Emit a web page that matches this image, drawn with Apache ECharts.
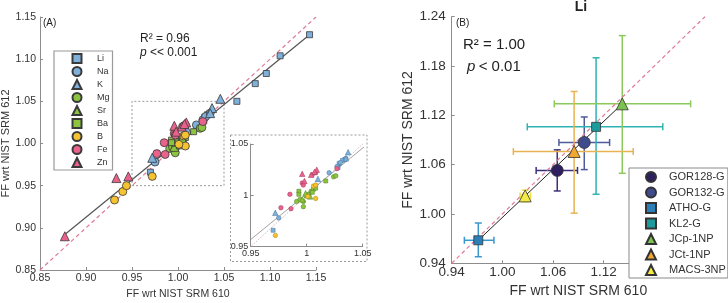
<!DOCTYPE html>
<html><head><meta charset="utf-8">
<script src="https://cdn.jsdelivr.net/npm/echarts@6/dist/echarts.min.js"></script>
<style>html,body{margin:0;padding:0;background:#fff}#c{width:728px;height:303px}</style>
</head><body><div id="c"></div>
<script>
// ---------- Panel A data (FF wrt SRM 610, FF wrt SRM 612) ----------
const elementNames = ['Li','Na','K','Mg','Sr','Ba','B','Fe','Zn'];
const aLi = [[1.143,1.129],[1.111,1.104],[1.096,1.083],[1.084,1.071],[1.064,1.050],[1.034,1.035],[1.029,1.031],[1.032,1.034],[1.028,1.027],[0.970,0.966]];
const aNa = [[1.020,1.022],[1.027,1.028],[1.030,1.032],[1.035,1.036],[0.975,0.978]];
const aK  = [[1.046,1.053],[1.037,1.042],[1.035,1.036],[1.010,1.016],[0.972,0.983]];
const aMg = [[1.024,1.018],[1.026,1.019],[0.991,0.994],[0.994,0.996],[0.997,0.994],[0.997,0.989],[1.004,1.004],[1.002,1.001]];
const aSr = [[1.000,1.000],[0.996,0.996],[1.003,0.999],[0.999,1.002]];
const aBa = [[0.993,1.004],[0.993,1.001],[1.006,1.006],[1.008,1.007],[1.017,1.014],[1.005,1.003]];
const aB  = [[0.931,0.933],[0.940,0.943],[0.944,0.950],[0.972,0.961],[1.006,1.009],[1.008,1.010],[1.008,0.997],[1.001,0.999]];
const aFe = [[0.985,1.001],[0.977,0.988],[0.986,0.987],[1.027,1.026],[0.996,1.012],[0.997,1.010],[1.005,1.020],[1.008,1.022]];
const aZn = [[0.877,0.890],[0.933,0.959],[0.946,0.961],[0.996,1.021],[1.009,1.025],[1.004,1.020],[1.007,1.023],[0.998,1.014]];
const regA = [[0.877,0.892],[1.142,1.128]];
const oneA = [[0.85,0.85],[1.15,1.15]];
const zoomBox = [0.95,1.05];
const axisA = {min:0.85,max:1.15,interval:0.05};
const axisInset = {min:0.95,max:1.05,interval:0.05};
const statsA = ['R² = 0.96','<< 0.001'];

// ---------- Panel B data (Li) ----------
const sampleNames = ['GOR128-G','GOR132-G','ATHO-G','KL2-G','JCp-1NP','JCt-1NP','MACS-3NP'];
const bX   = [1.065,1.097,0.9715,1.111,1.142,1.085,1.027];
const bY   = [1.053,1.087,0.968,1.106,1.134,1.076,1.022];
const bXLo = [1.040,1.067,0.955,1.0295,1.0615,1.013,1.021];
const bXHi = [1.089,1.127,0.990,1.190,1.223,1.155,1.0335];
const bYLo = [1.028,1.054,0.948,1.024,1.0495,1.001,1.015];
const bYHi = [1.078,1.118,0.989,1.190,1.217,1.149,1.029];
const regB = [[0.9715,0.968],[1.142,1.134]];
const oneB = [[0.94,0.94],[1.24,1.24]];
const axisB = {min:0.94,max:1.24,interval:0.06};
const statsB = ['R² = 1.00','< 0.01'];

// ---------- styles ----------
const FONT = '"Liberation Sans", Arial, Helvetica, sans-serif';
const BLUE='#7eb0da', GREEN='#8cc43f', YELLOW='#f5c230', PINK='#e8628c';
const aSets = [aLi,aNa,aK,aMg,aSr,aBa,aB,aFe,aZn];
const aSymbols = ['rect','circle','triangle','circle','triangle','rect','circle','circle','triangle'];
const aColors = [BLUE,BLUE,BLUE,GREEN,GREEN,GREEN,YELLOW,PINK,PINK];
const aInsetBorders = ['#3d6f9c','#3d6f9c','#3d6f9c','#4f7d1f','#4f7d1f','#4f7d1f','#a7821a','#a3385c','#a3385c'];
const bSymbols = ['circle','circle','rect','rect','triangle','triangle','triangle'];
const bColors = ['#2e1f5e','#3e4b8c','#2c7fb8','#1d9a9b','#7bc150','#f0a830','#f2ea46'];
const bErrColors = ['#3d2f7a','#4d5c9c','#3a96cf','#2fb3b2','#8cc95c','#e8b352','#ece33c'];
const bSizes = {circle:12, rect:9, triangle:12};
const aSizes = {circle:8, rect:6, triangle:9};
const inSizes = {circle:4.5, rect:4, triangle:5.5};

function valAxis(cfg, gridIndex, fs, margin, fmt, extra){
  return Object.assign({
    type:'value', gridIndex, min:cfg.min, max:cfg.max, interval:cfg.interval,
    splitLine:{show:false},
    axisLine:{show:true,onZero:false,lineStyle:{color:'#8c8c8c',width:1}},
    axisTick:{show:true,inside:true,length:3,lineStyle:{color:'#8c8c8c'}},
    axisLabel:{fontSize:fs,color:'#333',margin,formatter:fmt,showMinLabel:true,showMaxLabel:true,hideOverlap:false},
    nameTextStyle:{color:'#333',fontFamily:FONT}
  }, extra||{});
}
const f2 = v => v.toFixed(2);
const fShort = v => String(+v.toFixed(2));

const series = [];
// Panel A main scatter
aSets.forEach((d,i)=>{
  series.push({type:'scatter',name:elementNames[i],xAxisIndex:0,yAxisIndex:0,data:d,
    symbol:aSymbols[i],symbolSize:aSizes[aSymbols[i]],z:5,
    itemStyle:{color:aColors[i],borderColor:'#3a3a3a',borderWidth:0.8,opacity:1}});
});
// Panel A lines
series.push({type:'line',xAxisIndex:0,yAxisIndex:0,data:oneA,symbol:'none',z:3,silent:true,
  lineStyle:{color:'#e07a95',width:1.2,type:[4,3]}});
series.push({type:'line',xAxisIndex:0,yAxisIndex:0,data:regA,symbol:'none',z:4,silent:true,
  lineStyle:{color:'#555',width:1.2}});
series.push({type:'line',xAxisIndex:0,yAxisIndex:0,symbol:'none',z:2,silent:true,
  data:[[zoomBox[0],zoomBox[0]],[zoomBox[1],zoomBox[0]],[zoomBox[1],zoomBox[1]],[zoomBox[0],zoomBox[1]],[zoomBox[0],zoomBox[0]]],
  lineStyle:{color:'#9a9a9a',width:1,type:[2,2]}});
// Inset
series.push({type:'line',xAxisIndex:1,yAxisIndex:1,data:oneA,symbol:'none',z:3,silent:true,clip:true,
  lineStyle:{color:'#c9a3ae',width:0.8,type:[1.5,1.5]}});
series.push({type:'line',xAxisIndex:1,yAxisIndex:1,data:regA,symbol:'none',z:4,silent:true,clip:true,
  lineStyle:{color:'#8a8a8a',width:0.8}});
aSets.forEach((d,i)=>{
  const inside = d.filter(p=>p[0]>=zoomBox[0]&&p[0]<=zoomBox[1]&&p[1]>=zoomBox[0]&&p[1]<=zoomBox[1]);
  series.push({type:'scatter',name:elementNames[i],xAxisIndex:1,yAxisIndex:1,data:inside,
    symbol:aSymbols[i],symbolSize:inSizes[aSymbols[i]],z:5,
    itemStyle:{color:aColors[i],borderColor:aInsetBorders[i],borderWidth:0.5,opacity:1}});
});
// Panel B
series.push({type:'custom',xAxisIndex:2,yAxisIndex:2,z:2,silent:true,
  data:sampleNames.map((n,i)=>[bX[i],bY[i],bXLo[i],bXHi[i],bYLo[i],bYHi[i]]),
  encode:{x:[0,2,3],y:[1,4,5]},
  renderItem:function(params,api){
    const i=params.dataIndex;
    const x=api.value(0), y=api.value(1);
    const pl=api.coord([api.value(2),y]), ph=api.coord([api.value(3),y]);
    const pb=api.coord([x,api.value(4)]), pt=api.coord([x,api.value(5)]);
    const cap=3.5, st={stroke:bErrColors[i],lineWidth:1.5};
    const L=(x1,y1,x2,y2)=>({type:'line',shape:{x1,y1,x2,y2},style:st});
    return {type:'group',children:[
      L(pl[0],pl[1],ph[0],ph[1]), L(pl[0],pl[1]-cap,pl[0],pl[1]+cap), L(ph[0],ph[1]-cap,ph[0],ph[1]+cap),
      L(pb[0],pb[1],pt[0],pt[1]), L(pb[0]-cap,pb[1],pb[0]+cap,pb[1]), L(pt[0]-cap,pt[1],pt[0]+cap,pt[1])
    ]};
  }});
series.push({type:'line',xAxisIndex:2,yAxisIndex:2,data:oneB,symbol:'none',z:3,silent:true,
  lineStyle:{color:'#e07a95',width:1.2,type:[4,3]}});
series.push({type:'line',xAxisIndex:2,yAxisIndex:2,data:regB,symbol:'none',z:4,silent:true,
  lineStyle:{color:'#222',width:1}});
sampleNames.forEach((n,i)=>{
  series.push({type:'scatter',name:n,xAxisIndex:2,yAxisIndex:2,data:[[bX[i],bY[i]]],
    symbol:bSymbols[i],symbolSize:bSizes[bSymbols[i]],z:6,
    itemStyle:{color:bColors[i],borderColor:'#333',borderWidth:0.8,opacity:1}});
});

const chart = echarts.init(document.getElementById('c'),null,{renderer:'canvas'});
chart.setOption({
  animation:false,
  backgroundColor:'#fff',
  textStyle:{fontFamily:FONT},
  grid:[
    {left:40,top:17,width:276,height:253,outerBoundsMode:'none',containLabel:false},
    {left:250.7,top:144,width:112,height:102.7,outerBoundsMode:'none',containLabel:false},
    {left:451.7,top:16.7,width:253.3,height:246.6,outerBoundsMode:'none',containLabel:false}
  ],
  xAxis:[
    valAxis(axisA,0,10.5,3,f2,{name:'FF wrt NIST SRM 610',nameLocation:'middle',nameGap:17,nameTextStyle:{fontSize:10.5,color:'#333',fontFamily:FONT}}),
    valAxis(axisInset,1,9,2,fShort),
    valAxis(axisB,2,13.5,2,f2,{name:'FF wrt NIST SRM 610',nameLocation:'middle',nameGap:19,nameTextStyle:{fontSize:14,color:'#333',fontFamily:FONT}})
  ],
  yAxis:[
    valAxis(axisA,0,10.5,4,f2,{name:'FF wrt NIST SRM 612',nameLocation:'middle',nameGap:27,nameTextStyle:{fontSize:11,color:'#333',fontFamily:FONT}}),
    valAxis(axisInset,1,9,2.5,fShort),
    valAxis(axisB,2,13.5,6,f2,{name:'FF wrt NIST SRM 612',nameLocation:'middle',nameGap:33,nameTextStyle:{fontSize:14,color:'#333',fontFamily:FONT}})
  ],
  legend:[
    {data:elementNames,orient:'vertical',left:54,top:51,padding:[2,3,2,17.5],itemWidth:9,itemHeight:9,itemGap:2,
      borderColor:'#9a9a9a',borderWidth:1.2,backgroundColor:'#fff',selectedMode:false,
      textStyle:{fontSize:9,lineHeight:9,color:'#333',fontFamily:FONT,padding:[0,0,0,10.5]}},
    {data:sampleNames,orient:'vertical',left:629,top:168,padding:[3,2,2,16],itemWidth:10,itemHeight:10,itemGap:3.5,
      borderColor:'#8a8a8a',borderWidth:1,backgroundColor:'#fff',selectedMode:false,
      textStyle:{fontSize:11,lineHeight:10,color:'#333',fontFamily:FONT,padding:[0,0,0,8]}}
  ],
  graphic:[
    {type:'rect',shape:{x:230.5,y:135,width:136.5,height:126.5},z:0,silent:true,
      style:{fill:null,stroke:'#9a9a9a',lineWidth:1,lineDash:[2,2]}},
    {type:'text',x:43,y:23,silent:true,style:{text:'(A)',fontSize:10,fill:'#222',fontFamily:FONT,verticalAlign:'middle'}},
    {type:'text',x:140,y:38.5,silent:true,style:{text:statsA[0],fontSize:12,fill:'#222',fontFamily:FONT,verticalAlign:'middle'}},
    {type:'text',x:140,y:52.5,silent:true,style:{text:'{i|p} {n|'+statsA[1]+'}',fontFamily:FONT,verticalAlign:'middle',
      rich:{i:{fontSize:12,fontStyle:'italic',fill:'#222',fontFamily:FONT},n:{fontSize:12,fill:'#222',fontFamily:FONT}}}},
    {type:'text',x:581,y:7.5,silent:true,style:{text:'Li',fontSize:14,fontWeight:'bold',fill:'#222',fontFamily:FONT,align:'center',verticalAlign:'middle'}},
    {type:'text',x:456,y:23.5,silent:true,style:{text:'(B)',fontSize:10,fill:'#222',fontFamily:FONT,verticalAlign:'middle'}},
    {type:'text',x:463,y:45,silent:true,style:{text:statsB[0],fontSize:15,fill:'#222',fontFamily:FONT,verticalAlign:'middle'}},
    {type:'text',x:467,y:66.5,silent:true,style:{text:'{i|p} {n|'+statsB[1]+'}',fontFamily:FONT,verticalAlign:'middle',
      rich:{i:{fontSize:15,fontStyle:'italic',fill:'#222',fontFamily:FONT},n:{fontSize:15,fill:'#222',fontFamily:FONT}}}}
  ],
  series
});
</script></body></html>
